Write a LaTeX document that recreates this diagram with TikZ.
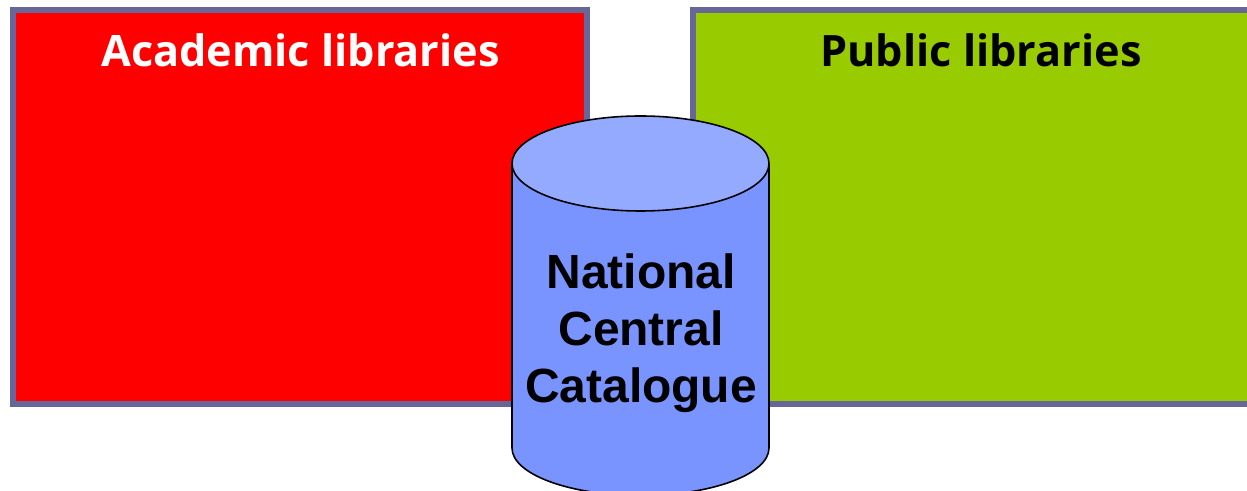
\documentclass[tikz,border=0pt]{standalone}
\usepackage{fontspec}
\setmainfont{Open Sans}
\newfontfamily\arialfont{Liberation Sans}
\usepackage{tikz}
\definecolor{frameBlue}{HTML}{666699}
\definecolor{publicGreen}{HTML}{99CC00}
\definecolor{bodyBlue}{HTML}{7A94FF}
\definecolor{topBlue}{HTML}{94AAFF}
\begin{document}
\begin{tikzpicture}[
    libraryBox/.style={
        rectangle, draw=frameBlue, line width=0.06cm,
        minimum height=3.94cm,
        inner sep=0pt, outer sep=0pt
    },
    libraryTitle/.style={
        font=\fontsize{12.3pt}{14pt}\bfseries,
        inner sep=0pt
    },
    drumLine/.style={draw=black, line width=0.45pt}
]
\useasboundingbox (0,0) rectangle (12.47,4.91);
\node[libraryBox, fill=red, minimum width=5.74cm] (academic) at (3.00,2.84) {};
\node[libraryBox, fill=publicGreen, minimum width=6.00cm] (public) at (9.93,2.84) {};
\node[libraryTitle, text=white] (academicTitle) at (3.005,4.41) {Academic libraries};
\node[libraryTitle, text=black] (publicTitle) at (9.81,4.41) {Public libraries};
% drum
\draw[drumLine, fill=bodyBlue] (5.12,3.275) -- (5.12,0.43)
    arc[start angle=180, end angle=360, x radius=1.285, y radius=0.475]
    -- (7.69,3.275) -- cycle;
\draw[drumLine, fill=topBlue] (6.405,3.275) ellipse[x radius=1.285, y radius=0.475];
\node[font=\fontsize{13.65pt}{16.2pt}\arialfont\bfseries, align=center, inner sep=0pt] (drumText) at (6.41,1.58) {National\\Central\\Catalogue};
\end{tikzpicture}
\end{document}
